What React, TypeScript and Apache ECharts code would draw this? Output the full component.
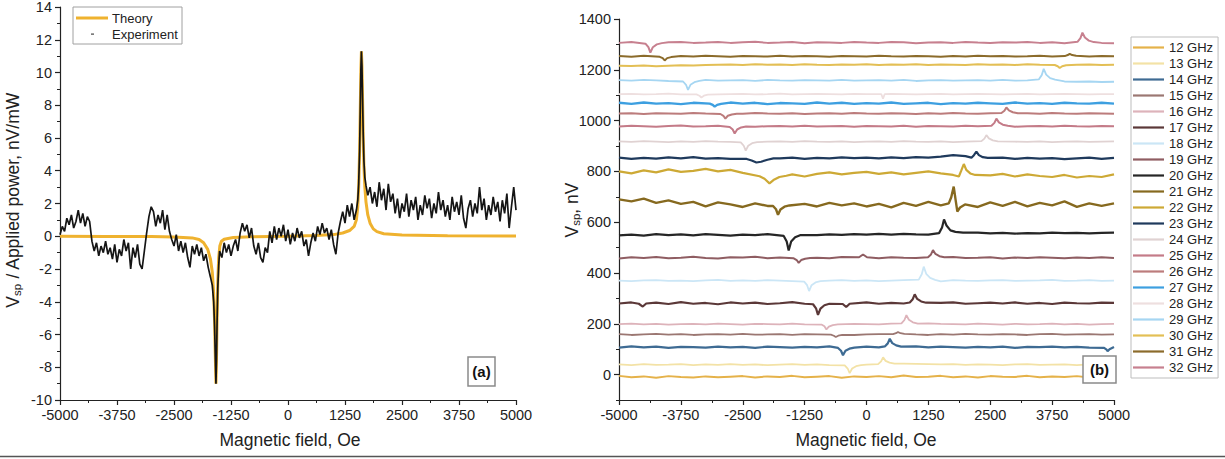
import React, { useEffect, useRef } from "react";
import * as echarts from "echarts";

const FONT = "Liberation Sans, Arial, Helvetica, sans-serif";
const INK = "#222";

// ---------- panel (a) ----------
const THEORY_COLOR = "#EFB22F";
const THEORY: [number, number][] = [
  [-5000, 0], [-4000, -0.01], [-3000, -0.02], [-2500, -0.04], [-2100, -0.1], [-1950, -0.2],
  [-1850, -0.4], [-1760, -0.8], [-1700, -1.4], [-1660, -2.2], [-1630, -3.5], [-1610, -5.2],
  [-1595, -7.2], [-1580, -9.0], [-1568, -7.5], [-1555, -5.0], [-1540, -2.8], [-1520, -1.3],
  [-1495, -0.6], [-1460, -0.3], [-1400, -0.18], [-1200, -0.08], [-800, -0.03], [0, 0],
  [600, 0.04], [1000, 0.1], [1200, 0.2], [1350, 0.35], [1450, 0.6], [1500, 1.0], [1530, 1.8],
  [1550, 3.0], [1570, 5.2], [1585, 7.8], [1598, 10.2], [1610, 11.3], [1622, 10.4], [1635, 8.4],
  [1650, 6.0], [1665, 4.3], [1685, 3.0], [1710, 2.1], [1750, 1.3], [1800, 0.8], [1870, 0.45],
  [1950, 0.28], [2100, 0.15], [2500, 0.07], [3500, 0.03], [5000, 0.02],
];
const EXPERIMENT: [number, number][] = [
  [-5000, 0.1], [-4950, 0.6], [-4900, 0.3], [-4850, 1.1], [-4800, 0.7], [-4750, 1.3], [-4700, 0.5],
  [-4650, 0.9], [-4600, 1.6], [-4550, 0.8], [-4500, 1.4], [-4450, 0.6], [-4400, 1.2], [-4350, 0.9],
  [-4300, -0.3], [-4250, -0.9], [-4200, -0.4], [-4150, -1.2], [-4100, -0.6], [-4050, -1.0],
  [-4000, -0.3], [-3950, -1.1], [-3900, -0.7], [-3850, -1.4], [-3800, -0.5], [-3750, -1.6],
  [-3700, -0.8], [-3650, -1.2], [-3600, -0.2], [-3550, -0.9], [-3500, -0.4], [-3450, -2.0],
  [-3400, -0.7], [-3350, -1.3], [-3300, -0.5], [-3250, -1.7], [-3200, -2.0], [-3150, -0.9],
  [-3100, 0.2], [-3050, 1.2], [-3000, 1.8], [-2950, 1.5], [-2900, 0.6], [-2850, 1.3], [-2800, 0.8],
  [-2750, 1.6], [-2700, 0.4], [-2650, 1.3],
  [-2600, 0.3], [-2550, -0.2], [-2500, -0.6], [-2450, 0.1], [-2400, -0.9], [-2350, -0.3],
  [-2300, -1.0], [-2250, -0.4], [-2200, -1.3], [-2150, -1.9], [-2100, -0.6], [-2050, -1.1],
  [-2000, -0.5], [-1950, -1.2], [-1900, -0.7], [-1850, -1.5], [-1800, -1.1], [-1750, -1.9],
  [-1700, -2.5], [-1660, -3.0], [-1630, -4.0], [-1610, -5.5], [-1595, -7.3], [-1580, -9.0],
  [-1568, -7.6], [-1555, -5.2], [-1540, -3.2], [-1520, -1.8],
  [-1500, -0.9], [-1450, -1.3], [-1400, -0.4], [-1350, -1.0], [-1300, -0.5], [-1250, -1.2],
  [-1200, -0.6], [-1150, -0.2], [-1100, -0.9],
  [-1050, 0.2], [-1000, 0.8], [-950, 0.3], [-900, 0.7], [-850, -0.1], [-800, 0.5],
  [-750, -0.6], [-700, -1.1], [-650, -0.4], [-600, -1.3], [-550, -1.6], [-500, -0.7], [-450, -1.0],
  [-400, 0.3], [-350, -0.4], [-300, 0.6], [-250, -0.2], [-200, 0.5], [-150, 0.0], [-100, 0.7],
  [-50, -0.3], [0, 0.4], [50, -0.5], [100, 0.2], [150, -0.3], [200, 0.5], [250, -0.1], [300, 0.3],
  [350, -0.6], [400, -0.2], [450, -1.2], [500, -0.4], [550, 0.2], [600, -0.3], [650, 0.6],
  [700, 0.1], [750, 0.8], [800, 0.2], [850, 0.5], [900, -0.2], [950, 0.4], [1000, -0.5],
  [1050, -1.1], [1100, 0.2], [1150, 0.9],
  [1200, 1.5], [1250, 0.8], [1300, 1.9], [1350, 1.2], [1400, 2.0], [1450, 1.0], [1500, 1.6],
  [1530, 2.2], [1550, 3.2], [1570, 5.2], [1585, 7.8], [1598, 10.2], [1610, 11.3], [1622, 10.4],
  [1635, 8.4], [1650, 6.2], [1665, 4.6], [1685, 3.6], [1710, 3.1],
  [1750, 2.5], [1800, 3.0], [1850, 2.0], [1900, 2.7], [1950, 1.8], [2000, 3.3], [2050, 2.2],
  [2100, 2.9], [2150, 1.6], [2200, 3.2], [2250, 2.1], [2300, 2.6],
  [2350, 1.4], [2400, 2.3], [2450, 1.1], [2500, 2.0], [2550, 1.5], [2600, 2.6], [2650, 1.2],
  [2700, 2.2], [2750, 1.6], [2800, 2.4], [2850, 1.0], [2900, 1.9], [2950, 1.3], [3000, 2.5],
  [3050, 1.7], [3100, 2.3], [3150, 1.1], [3200, 2.0], [3250, 1.4], [3300, 2.7], [3350, 1.6],
  [3400, 2.2], [3450, 1.2], [3500, 1.9], [3550, 1.0], [3600, 2.4], [3650, 1.5], [3700, 2.1],
  [3750, 1.3], [3800, 2.5], [3850, 1.1], [3900, 0.5], [3950, 1.7], [4000, 2.2], [4050, 1.2],
  [4100, 2.0], [4150, 1.4], [4200, 3.0], [4250, 1.6], [4300, 2.3], [4350, 1.0], [4400, 1.9],
  [4450, 1.3], [4500, 2.4], [4550, 1.5], [4600, 2.1], [4650, 0.9], [4700, 2.2], [4750, 1.4],
  [4800, 2.6], [4850, 0.5], [4900, 1.8], [4950, 3.0], [5000, 1.6],
];

// ---------- panel (b) ----------
const FREQS = [
  "12 GHz", "13 GHz", "14 GHz", "15 GHz", "16 GHz", "17 GHz", "18 GHz", "19 GHz", "20 GHz",
  "21 GHz", "22 GHz", "23 GHz", "24 GHz", "25 GHz", "26 GHz", "27 GHz", "28 GHz", "29 GHz",
  "30 GHz", "31 GHz", "32 GHz",
];
const COLORS = [
  "#E5B24A", "#F3E2A6", "#3E6B93", "#9B7772", "#DDB3BA", "#5B3838", "#CBE6F6", "#8F5D62",
  "#262626", "#86691F", "#CDA935", "#1F3A5C", "#E0D2D2", "#C47B88", "#BC7C7C", "#3D9FE0",
  "#EEDFDF", "#A6D6F2", "#E3BF55", "#8B6B2B", "#C7808F",
];
const WIDTHS = [2, 1.8, 2.2, 1.8, 1.8, 2.2, 1.8, 2, 2.2, 2.4, 2.2, 2.2, 1.8, 2, 2, 2.4, 1.8, 1.8, 2, 2, 2];
// baseline of each trace (nV)
const OFFSETS = [-8, 39, 108, 158, 199, 281, 370, 460, 552, 668, 786, 852, 917, 978, 1028, 1068, 1104, 1158, 1220, 1253, 1307];
const RIGHT_FIELD = [
  -5000, -4750, -4500, -4250, -4000, -3750, -3500, -3250, -3000, -2750, -2500, -2250, -2000,
  -1750, -1500, -1250, -1000, -750, -500, -250, 0, 250, 500, 750, 1000, 1250, 1500, 1750, 2000,
  2250, 2500, 2750, 3000, 3250, 3500, 3750, 4000, 4250, 4500, 4750, 5000,
];
// noise read around each baseline, on RIGHT_FIELD
const N12 = [3,-2,1,-4,2,-1,-3,1,-2,0, 2,-3,1,-1,3,-2,0,2,-4,1, -1,2,-2,4,-1,0,3,-2,1,-3, 2,0,-1,3,-2,1,-1,2,-3,1, 0];
const N13 = [1,-2,2,-1,0,2,-2,1,-1,2, -1,1,-2,0,2,-1,1,-2,0,1, 0,3,2,4,3,2,1,2,-1,1, 0,-2,1,2,-1,0,1,-2,1,0, 1];
const N14 = [-2,3,-1,2,-3,1,0,-2,2,-1, 1,-3,2,0,-2,1,-1,3,-2,0, 2,-1,1,-2,3,-1,2,0,-2,1, -1,2,-3,1,0,2,-1,1,-2,0, 1];
const N15 = [1,-2,0,2,-1,1,-2,0,1,-1, 2,-1,0,1,-2,1,0,-1,2,-2, 0,1,-1,2,0,-2,1,-1,2,0, -1,1,0,-2,1,2,-1,0,1,-1, 0];
const N16 = [0,2,-1,1,-2,0,1,-1,2,0, -2,1,0,-1,2,-1,1,0,-2,1, 0,-1,2,-1,1,3,1,0,-1,2, 0,-2,1,-1,0,2,-1,1,-2,0, 1];
const N17 = [-1,3,-6,2,-3,4,-2,1,-4,3, -1,2,-3,0,4,-2,1,-3,2,-1, 3,-2,1,-1,2,-3,1,3,-2,0, 2,-1,3,-2,1,-3,2,0,-1,2, 1];
const N18 = [0,-2,1,2,-1,0,-2,1,3,-1, 1,-1,2,0,-2,1,-1,0,2,-1, 1,-2,0,2,-1,1,-3,2,0,-1, 1,2,-1,0,1,3,-1,0,2,-1, 0];
const N19 = [-3,2,-1,3,-2,0,4,-1,-3,2, 1,4,-2,1,-3,2,0,-2,3,-1, 1,-2,2,0,-1,1,-2,3,-1,0, 2,-3,1,-1,2,0,-2,1,-1,2, -1];
const N20 = [-4,-1,-5,1,-3,0,-4,1,-2,-5, -1,-3,1,-2,-4,1,-3,0,-2,1, -1,2,-1,2,0,-1,1,6,5,7, 4,6,3,5,4,7,5,6,4,6, 7];
const N21 = [22,14,25,8,18,4,12,-6,10,2, -8,6,-4,10,-10,4,-6,8,-2,6, -6,4,-10,8,-4,12,-2,-6,6,-8, 10,-4,12,-6,8,-2,14,-8,6,-4, 6];
const N22 = [14,6,18,10,22,12,16,24,14,20, 8,-2,6,-4,2,-6,4,10,2,8, 12,4,10,2,8,14,6,0,-4,6, -2,4,-6,2,-4,-8,0,-10,-4,-8, 2];
const N23 = [2,-3,1,-2,3,-1,4,-2,0,-3, 1,-2,-4,-1,2,-3,1,-1,3,0, 2,-1,3,0,4,2,6,12,8,3, -1,2,-3,1,-2,0,-4,-1,2,-3, 1];
const N24 = [1,-1,2,0,-2,1,-1,2,0,-1, 1,-2,0,1,-1,2,0,-1,1,-2, 0,1,-1,2,0,-1,1,-2,0,1, -1,2,0,-1,1,-2,0,1,-1,0, 1];
const N25 = [-1,2,0,-2,1,3,-1,0,2,-1, 1,-2,0,1,-1,2,-1,0,1,-2, 1,0,-1,2,-2,1,0,-1,2,0, -1,1,-2,0,1,-1,2,0,-1,1, 0];
const N26 = [0,1,-2,1,0,-1,2,0,-2,1, -1,2,0,-1,1,-2,0,1,-1,2, 0,-1,1,0,-2,1,-1,2,0,-1, 1,0,-2,1,-1,2,0,-1,1,0, -1];
const N27 = [2,-2,3,-1,1,-3,2,0,-2,3, -1,2,-3,1,0,-2,3,-1,2,-2, 1,-1,3,-2,0,2,-3,1,-1,2, 0,-2,3,-1,1,-2,2,0,-1,2, -1];
const N28 = [0,1,-1,0,2,-1,0,1,-1,0, 1,-1,0,2,-1,0,1,0,-1,1, 0,-1,1,0,-1,0,1,-1,0,1, 0,-1,0,1,-1,0,1,0,-1,0, 0];
const N29 = [1,-1,2,0,-2,1,-1,2,-1,0, 1,-2,2,0,-1,1,0,-1,2,-1, 0,1,-1,2,-2,0,1,-1,0,1, -1,2,-1,0,-3,-1,-4,-5,-4,-6, -5];
const N30 = [-4,-5,-3,-6,-4,-2,-3,-1,0,1, -1,2,0,1,-1,2,0,-1,1,0, 2,-1,1,0,2,-1,1,0,-1,2, 0,1,-1,2,0,1,-1,0,1,-1, 0];
const N31 = [1,-2,2,-1,0,1,-1,2,0,-2, 1,0,-1,2,-1,1,0,-2,1,0, -1,2,0,-1,1,0,-2,1,-1,2, 0,1,-1,0,2,-1,1,0,-1,1, 0];
const N32 = [-1,2,0,-2,1,2,-1,0,2,-1, 1,3,-1,0,2,-2,1,0,-1,2, 0,-1,2,1,-2,0,1,-1,2,0, -1,1,0,2,-1,1,-2,0,1,-1, -2];
// resonance dips / peaks read around each baseline: [field, deviation]
const F12: [number, number][] = [];
const F13: [number, number][] = [[-440,-3],[-380,-15],[-340,-33],[-290,-15],[-210,-6],[-110,-2],[235,2],[295,13],[335,29],[385,15],[465,8],[565,4]];
const F14: [number, number][] = [[-575,-3],[-515,-14],[-475,-32],[-425,-14],[-345,-6],[-245,-2],[370,3],[430,15],[470,33],[520,16],[600,7],[700,2],[4800,-3],[4850,-10],[4870,-16],[4910,-8],[4960,-3],[5000,1]];
const F15: [number, number][] = [[-720,-1],[-660,-5],[-620,-10],[-570,-5],[-490,-2],[536,1],[596,5],[636,10],[686,5],[766,2]];
const F16: [number, number][] = [[-910,-2],[-850,-9],[-810,-21],[-760,-10],[-680,-4],[-580,-1],[706,3],[766,16],[806,35],[856,17],[936,7],[1036,2]];
const F17: [number, number][] = [[-4600,-2],[-4520,-13],[-4450,-1],[-1080,-4],[-1020,-20],[-980,-46],[-930,-21],[-850,-8],[-750,-2],[-480,-3],[-410,-15],[-340,-2],[874,3],[934,16],[974,35],[1024,17],[1104,7],[1204,2]];
const F18: [number, number][] = [[-1260,-4],[-1200,-18],[-1160,-41],[-1110,-18],[-1030,-7],[-930,-2],[1056,4],[1116,25],[1156,55],[1206,27],[1286,11],[1386,3]];
const F19: [number, number][] = [[-1470,-2],[-1410,-9],[-1370,-20],[-1320,-9],[-1240,-4],[-1140,-1],[-150,2],[-70,13],[10,2],[1243,2],[1303,13],[1343,30],[1393,15],[1473,6],[1573,2]];
const F20: [number, number][] = [[-1672,-6],[-1612,-28],[-1572,-63],[-1522,-28],[-1442,-11],[-1342,-3],[1466,5],[1526,27],[1566,59],[1616,35],[1696,16],[1796,10],[1950,7]];
const F21: [number, number][] = [[-1888,-4],[-1828,-17],[-1788,-39],[-1738,-18],[-1658,-7],[-1558,-2],[1662,6],[1712,30],[1762,72],[1800,20],[1835,-26],[1890,-10],[1990,2]];
const F22: [number, number][] = [[-2160,-5],[-2060,-15],[-1960,-33],[-1880,-20],[-1760,-8],[-1620,-3],[1866,-6],[1916,18],[1966,43],[2016,20],[2096,6],[2196,0]];
const F23: [number, number][] = [[-2420,-3],[-2320,-9],[-2224,-17],[-2130,-14],[-2000,-6],[-1880,-1],[2120,2],[2170,12],[2220,26],[2270,12],[2350,4],[2450,1]];
const F24: [number, number][] = [[-2540,-3],[-2480,-16],[-2440,-35],[-2390,-16],[-2310,-6],[-2210,-2],[2322,2],[2382,12],[2422,26],[2472,13],[2552,5],[2652,1]];
const F25: [number, number][] = [[-2763,-3],[-2703,-13],[-2663,-29],[-2613,-13],[-2533,-5],[-2433,-1],[2524,2],[2584,13],[2624,30],[2674,15],[2754,6],[2854,2]];
const F26: [number, number][] = [[-2951,-2],[-2891,-9],[-2851,-20],[-2801,-9],[-2721,-4],[-2621,-1],[2726,2],[2786,11],[2826,24],[2876,12],[2956,5],[3056,1]];
const F27: [number, number][] = [[-3167,-1],[-3107,-6],[-3067,-13],[-3017,-6],[-2937,-2]];
const F28: [number, number][] = [[-3435,-1],[-3375,-6],[-3335,-13],[-3285,-6],[-3205,-2],[300,0],[333,-18],[366,0]];
const F29: [number, number][] = [[-3706,-4],[-3646,-17],[-3606,-37],[-3556,-17],[-3476,-7],[-3376,-2],[3480,4],[3540,21],[3580,46],[3630,23],[3710,9],[3810,3]];
const F30: [number, number][] = [[3803,-1],[3863,-6],[3903,-13],[3953,-6],[4033,-2]];
const F31: [number, number][] = [[-4177,-2],[-4117,-7],[-4077,-16],[-4027,-7],[-3947,-3],[4005,1],[4065,5],[4105,10],[4155,5],[4235,2]];
const F32: [number, number][] = [[-4466,-4],[-4406,-18],[-4366,-39],[-4316,-18],[-4236,-7],[-4136,-2],[4262,3],[4322,18],[4362,39],[4412,20],[4492,8],[4592,2]];

const NOISE = [N12, N13, N14, N15, N16, N17, N18, N19, N20, N21, N22, N23, N24, N25, N26, N27, N28, N29, N30, N31, N32];
const FEATURES = [F12, F13, F14, F15, F16, F17, F18, F19, F20, F21, F22, F23, F24, F25, F26, F27, F28, F29, F30, F31, F32];

const PLAIN = (v: number) => String(v);
const RIGHT_Y_LABELS = [0, 200, 400, 600, 800, 1000, 1200, 1400];
const LEGEND_LINE = "path://M0,0h31v2.2h-31z";

function buildTrace(offset: number, noise: number[], feats: [number, number][]) {
  const pts: [number, number][] = [];
  RIGHT_FIELD.forEach((x, i) => {
    if (noise[i] === undefined) return;
    if (feats.some((f) => Math.abs(f[0] - x) < 110)) return;
    pts.push([x, offset + noise[i]]);
  });
  feats.forEach((f) => pts.push([f[0], offset + f[1]]));
  pts.sort((a, b) => a[0] - b[0]);
  return pts;
}

function xAxis(gridIndex: number) {
  return {
    type: "value",
    gridIndex,
    min: -5000,
    max: 5000,
    interval: 1250,
    axisLine: { show: true, onZero: false, lineStyle: { color: INK, width: 1.2 } },
    axisTick: { show: true, length: 5, lineStyle: { color: INK, width: 1.2 } },
    minorTick: { show: true, splitNumber: 2, length: 3, lineStyle: { color: INK, width: 1 } },
    splitLine: { show: false },
    minorSplitLine: { show: false },
    axisLabel: { formatter: PLAIN, color: INK, fontSize: 14.5, fontFamily: FONT, margin: 7 },
  };
}

export default function App() {
  const ref = useRef<HTMLDivElement>(null);
  useEffect(() => {
    document.body.style.margin = "0";
    if (!ref.current) return;
    const chart = echarts.init(ref.current, undefined, { renderer: "svg" });

    const traceSeries = FREQS.map((name, i) => ({
      name,
      type: "line",
      xAxisIndex: 1,
      yAxisIndex: 1,
      data: buildTrace(OFFSETS[i], NOISE[i], FEATURES[i]),
      symbol: "none",
      showSymbol: false,
      lineStyle: { color: COLORS[i], width: WIDTHS[i] },
      itemStyle: { color: COLORS[i] },
      z: 2,
    }));

    const subTitle = (main: string, rest: string) => ({
      text: `{v|${main}}{s|sp}{v|${rest}}`,
      rich: {
        v: { fontSize: 17.5, fontFamily: FONT, fill: INK, lineHeight: 20 },
        s: { fontSize: 11.5, fontFamily: FONT, fill: INK, lineHeight: 12, verticalAlign: "bottom" },
      },
    });

    chart.setOption({
      animation: false,
      backgroundColor: "#fff",
      textStyle: { fontFamily: FONT },
      grid: [
        { left: 60, top: 7, width: 456, height: 393, outerBoundsMode: "none" },
        { left: 619, top: 19, width: 495, height: 381, outerBoundsMode: "none" },
      ],
      xAxis: [xAxis(0), xAxis(1)],
      yAxis: [
        {
          type: "value",
          gridIndex: 0,
          min: -10,
          max: 14,
          interval: 2,
          axisLine: { show: true, onZero: false, lineStyle: { color: INK, width: 1.2 } },
          axisTick: { show: true, length: 5, lineStyle: { color: INK, width: 1.2 } },
          minorTick: { show: true, splitNumber: 2, length: 3, lineStyle: { color: INK, width: 1 } },
          splitLine: { show: false },
          axisLabel: { formatter: PLAIN, color: INK, fontSize: 14.5, fontFamily: FONT, margin: 8 },
        },
        {
          type: "value",
          gridIndex: 1,
          min: -100,
          max: 1400,
          position: "left",
          axisLine: { show: true, onZero: false, lineStyle: { color: INK, width: 1.2 } },
          axisTick: { show: true, length: 5, customValues: RIGHT_Y_LABELS, lineStyle: { color: INK, width: 1.2 } },
          splitLine: { show: false },
          axisLabel: { customValues: RIGHT_Y_LABELS, formatter: PLAIN, color: INK, fontSize: 14.5, fontFamily: FONT, margin: 8 },
        },
        {
          type: "value",
          gridIndex: 1,
          min: -100,
          max: 1400,
          interval: 100,
          position: "left",
          offset: 0,
          axisLine: { show: false, onZero: false },
          axisTick: { show: true, length: 3, lineStyle: { color: INK, width: 1 } },
          splitLine: { show: false },
          axisLabel: { show: false },
        },
      ],
      legend: {
        data: FREQS.map((name) => ({ name, icon: LEGEND_LINE })),
        orient: "vertical",
        left: 1131,
        top: 37,
        itemWidth: 31,
        itemHeight: 13,
        itemGap: 3,
        padding: [4, 5, 4, 2],
        borderColor: "#bdbdbd",
        borderWidth: 1,
        backgroundColor: "#fff",
        textStyle: { fontSize: 13, color: INK, fontFamily: FONT },
        selectedMode: false,
      },
      series: [
        {
          name: "Theory",
          type: "line",
          xAxisIndex: 0,
          yAxisIndex: 0,
          data: THEORY,
          symbol: "none",
          lineStyle: { color: THEORY_COLOR, width: 3 },
          z: 2,
        },
        {
          name: "Experiment",
          type: "line",
          xAxisIndex: 0,
          yAxisIndex: 0,
          data: EXPERIMENT,
          symbol: "none",
          lineStyle: { color: "#151515", width: 1.7 },
          z: 3,
        },
        ...traceSeries,
      ],
      graphic: [
        // legend of panel (a)
        { type: "rect", z: 100, shape: { x: 73, y: 7, width: 109, height: 37 }, style: { fill: "#fff", stroke: "#a0a0a0", lineWidth: 1 } },
        { type: "line", z: 101, shape: { x1: 76, y1: 18, x2: 108, y2: 18 }, style: { stroke: THEORY_COLOR, lineWidth: 3 } },
        { type: "text", z: 101, x: 112, y: 18, style: { text: "Theory", fontSize: 13, fontFamily: FONT, fill: INK, align: "left", verticalAlign: "middle", textAlign: "left", textVerticalAlign: "middle" } },
        { type: "rect", z: 101, shape: { x: 91, y: 33.5, width: 3, height: 1.2 }, style: { fill: "#444" } },
        { type: "text", z: 101, x: 112, y: 34, style: { text: "Experiment", fontSize: 13, fontFamily: FONT, fill: INK, align: "left", verticalAlign: "middle", textAlign: "left", textVerticalAlign: "middle" } },
        // panel labels
        { type: "rect", z: 100, shape: { x: 468, y: 357, width: 27, height: 29 }, style: { fill: "#fff", stroke: "#8a8a8a", lineWidth: 1.5 } },
        { type: "text", z: 101, x: 481.5, y: 371.5, style: { text: "(a)", fontSize: 15, fontWeight: "bold", fontFamily: FONT, fill: "#111", align: "center", verticalAlign: "middle", textAlign: "center", textVerticalAlign: "middle" } },
        { type: "rect", z: 100, shape: { x: 1083, y: 356, width: 33, height: 27 }, style: { fill: "#fff", stroke: "#8a8a8a", lineWidth: 1.5 } },
        { type: "text", z: 101, x: 1099.5, y: 369.5, style: { text: "(b)", fontSize: 15, fontWeight: "bold", fontFamily: FONT, fill: "#111", align: "center", verticalAlign: "middle", textAlign: "center", textVerticalAlign: "middle" } },
        // axis titles
        { type: "text", z: 101, x: 290, y: 440, style: { text: "Magnetic field, Oe", fontSize: 17.5, fontFamily: FONT, fill: INK, align: "center", verticalAlign: "middle", textAlign: "center", textVerticalAlign: "middle" } },
        { type: "text", z: 101, x: 866, y: 440, style: { text: "Magnetic field, Oe", fontSize: 17.5, fontFamily: FONT, fill: INK, align: "center", verticalAlign: "middle", textAlign: "center", textVerticalAlign: "middle" } },
        { type: "text", z: 101, x: 13, y: 200, rotation: Math.PI / 2, style: { ...subTitle("V", " / Applied power, nV/mW"), align: "center", verticalAlign: "middle", textAlign: "center", textVerticalAlign: "middle" } },
        { type: "text", z: 101, x: 572, y: 210, rotation: Math.PI / 2, style: { ...subTitle("V", ", nV"), align: "center", verticalAlign: "middle", textAlign: "center", textVerticalAlign: "middle" } },
        // bottom frame line
        { type: "line", z: 101, shape: { x1: 0, y1: 456.5, x2: 1225, y2: 456.5 }, style: { stroke: "#555", lineWidth: 1.5 } },
      ],
    });
    return () => chart.dispose();
  }, []);
  return <div ref={ref} style={{ width: 1225, height: 459 }} />;
}
